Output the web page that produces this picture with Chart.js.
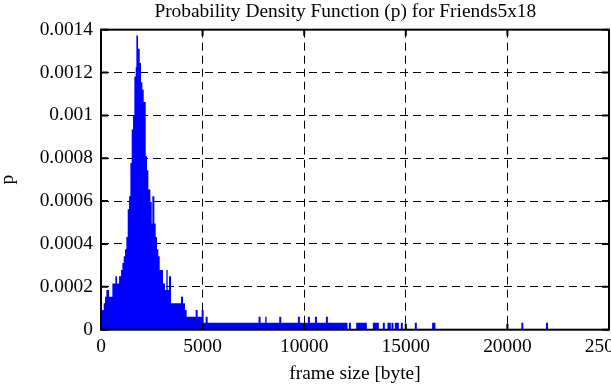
<!DOCTYPE html>
<html>
<head>
<meta charset="utf-8">
<script src="https://cdn.jsdelivr.net/npm/chart.js@4/dist/chart.umd.min.js"></script>
<style>
  html, body { margin: 0; padding: 0; background: #fff; overflow: hidden; }
  #wrap { width: 611px; height: 385px; position: relative; }
</style>
</head>
<body>
<div id="wrap"><canvas id="c" width="611" height="385"></canvas></div>
<script>
// Histogram of frame sizes: each entry starts a run (bytes) whose density holds until the next entry
const binStart = [
  0, 134, 200, 266, 397, 560, 708, 790, 888, 987,
  1052, 1118, 1183, 1249, 1314, 1380, 1446, 1511, 1577, 1642,
  1708, 1741, 1823, 1904, 1970, 2036, 2101, 2200, 2265, 2331,
  2429, 2495, 2527, 2626, 2691, 2757, 2822, 2888, 3052, 3150,
  3216, 3281, 3347, 3445, 3938, 4036, 4134, 4216, 4659, 4757,
  4954, 5052, 5150, 5248,
  7755, 7853, 8083, 8150, 8772, 8870, 9691, 9789, 10183, 10281,
  10527, 10625, 11068, 11166, 12131, 12198, 12297, 12558, 13083, 13378,
  13673, 13870, 13968, 14099, 14263, 14296, 14394, 14460, 14657, 14755,
  14853, 15444, 15543, 16295, 16459, 20686, 20784, 21900, 21998
];
const density = [
  9.2e-5, 1.23e-4, 1.54e-4, 1.85e-4, 1.54e-4, 2.16e-4, 2.5e-4, 2.16e-4, 2.5e-4, 2.78e-4,
  3.11e-4, 3.43e-4, 3.75e-4, 4.33e-4, 5.62e-4, 6.23e-4, 7.78e-4, 9.34e-4, 1.0e-3, 1.182e-3,
  1.225e-3, 1.373e-3, 1.311e-3, 1.244e-3, 1.155e-3, 1.12e-3, 1.062e-3, 8.09e-4, 7.44e-4, 6.54e-4,
  5.96e-4, 4.96e-4, 6.23e-4, 4.96e-4, 4.33e-4, 3.75e-4, 3.43e-4, 2.78e-4, 2.16e-4, 1.85e-4,
  2.78e-4, 1.85e-4, 2.5e-4, 1.23e-4, 1.54e-4, 1.23e-4, 9.2e-5, 6.06e-5, 9.2e-5, 6.06e-5,
  9.2e-5, 3.26e-5, 6.06e-5, 3.26e-5,
  6.06e-5, 3.26e-5, 6.06e-5, 3.26e-5, 6.06e-5, 3.26e-5, 6.06e-5, 3.26e-5, 6.06e-5, 3.26e-5,
  6.06e-5, 3.26e-5, 6.06e-5, 3.26e-5, 0, 3.26e-5, 0, 3.26e-5, 0, 3.26e-5,
  0, 3.26e-5, 0, 3.26e-5, 0, 3.26e-5, 0, 3.26e-5, 0, 3.26e-5,
  0, 3.26e-5, 0, 3.26e-5, 0, 3.26e-5, 0, 3.26e-5, 0
];
const xTicks = [0, 5000, 10000, 15000, 20000, 25000];
const xTickLabels = ['0', '5000', '10000', '15000', '20000', '25000'];
const yTicks = [0, 0.0002, 0.0004, 0.0006, 0.0008, 0.001, 0.0012, 0.0014];
const yTickLabels = ['0', '0.0002', '0.0004', '0.0006', '0.0008', '0.001', '0.0012', '0.0014'];
const titleText = 'Probability Density Function (p) for Friends5x18';
const xTitle = 'frame size [byte]';
const yTitle = 'p';

const FONT = 'Liberation Serif, Times New Roman, serif';
const FS = 19.4;

const points = binStart.map((x, i) => ({ x: x, y: density[i] }));

const framePlugin = {
  id: 'frame',
  afterDatasetsDraw(chart) {
    const { ctx, chartArea: a, scales } = chart;
    const sx = scales.x, sy = scales.y;
    ctx.save();
    ctx.strokeStyle = '#000';
    ctx.lineWidth = 2;
    ctx.setLineDash([]);
    ctx.beginPath();
    sx.ticks.forEach(t => {
      const px = sx.getPixelForValue(t.value);
      ctx.moveTo(px, a.bottom); ctx.lineTo(px, a.bottom - 6);
      ctx.moveTo(px, a.top); ctx.lineTo(px, a.top + 6);
    });
    sy.ticks.forEach(t => {
      const py = sy.getPixelForValue(t.value);
      ctx.moveTo(a.left, py); ctx.lineTo(a.left + 7, py);
      ctx.moveTo(a.right, py); ctx.lineTo(a.right - 7, py);
    });
    ctx.stroke();
    ctx.strokeRect(a.left, a.top, a.right - a.left, a.bottom - a.top);
    ctx.restore();
  }
};

new Chart(document.getElementById('c'), {
  type: 'line',
  data: {
    datasets: [{
      data: points,
      stepped: 'before',
      fill: 'origin',
      backgroundColor: '#0000ff',
      borderColor: '#0000ff',
      borderWidth: 0,
      pointRadius: 0,
      tension: 0
    }]
  },
  options: {
    responsive: false,
    animation: false,
    events: [],
    layout: { padding: { left: 0, right: 2, top: 0, bottom: 0 } },
    plugins: {
      legend: { display: false },
      tooltip: { enabled: false },
      title: {
        display: true,
        fullSize: false,
        text: titleText + '    ',
        color: '#000',
        font: { family: FONT, size: FS, weight: 'normal', lineHeight: 1.2 },
        padding: { top: 0, bottom: 6.4 }
      }
    },
    scales: {
      x: {
        type: 'linear',
        min: 0, max: 25000,
        afterBuildTicks: s => { s.ticks = xTicks.map(v => ({ value: v })); },
        afterFit: s => { s.paddingRight = 0; s.paddingLeft = 0; s.height = 55.3; },
        ticks: {
          color: '#000',
          font: { family: FONT, size: FS, lineHeight: 1.1 },
          padding: 7,
          maxRotation: 0,
          autoSkip: false,
          callback: (v, i) => xTickLabels[xTicks.indexOf(v)]
        },
        grid: { color: '#000', lineWidth: 1, drawTicks: false },
        border: { display: false, dash: [8, 5] },
        title: {
          display: true, text: xTitle, color: '#000',
          font: { family: FONT, size: FS, lineHeight: 1.1 },
          padding: { top: 0, bottom: 0 }
        }
      },
      y: {
        type: 'linear',
        min: 0, max: 0.0014,
        afterBuildTicks: s => { s.ticks = yTicks.map(v => ({ value: v })); },
        afterFit: s => { s.width = 101; },
        ticks: {
          color: '#000',
          font: { family: FONT, size: FS, lineHeight: 1.1 },
          padding: 8,
          callback: (v, i) => yTickLabels[yTicks.indexOf(v)]
        },
        grid: { color: '#000', lineWidth: 1, drawTicks: false },
        border: { display: false, dash: [8, 5] },
        title: {
          display: true, text: yTitle, color: '#000',
          font: { family: FONT, size: FS, lineHeight: 0.85 },
          padding: 0
        }
      }
    }
  },
  plugins: [framePlugin]
});
</script>
</body>
</html>
